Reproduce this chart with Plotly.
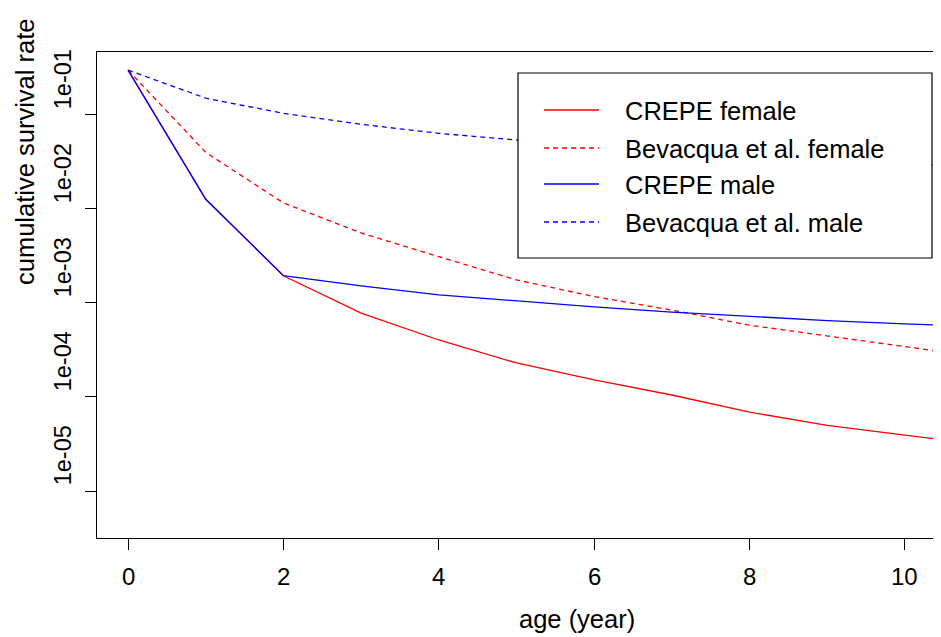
import numpy as np
import plotly.graph_objects as go

# ---- data ----
ages = [0, 1, 2, 3, 4, 5, 6, 7, 8, 9, 10, 11]
crepe_female = [0.30, 0.0127, 0.00195, 7.8e-4, 4.04e-4, 2.3e-4, 1.52e-4, 1.05e-4, 6.9e-5, 5.0e-5, 3.94e-5, 3.1e-5]
bevacqua_female = [0.30, 0.040, 0.0116, 5.56e-3, 3.11e-3, 1.76e-3, 1.17e-3, 8.4e-4, 5.8e-4, 4.45e-4, 3.43e-4, 2.64e-4]
crepe_male = [0.30, 0.0127, 0.00195, 1.52e-3, 1.22e-3, 1.05e-3, 9.1e-4, 8.0e-4, 7.15e-4, 6.5e-4, 6.0e-4, 5.56e-4]
bevacqua_male = [0.30, 0.151, 0.104, 0.0796, 0.0638, 0.0542, 0.047, 0.042, 0.037, 0.033, 0.0305, 0.028]

series_names = ["CREPE female", "Bevacqua et al. female", "CREPE male", "Bevacqua et al. male"]
series_values = [crepe_female, bevacqua_female, crepe_male, bevacqua_male]
series_colors = ["#FF0000", "#FF0000", "#0000FF", "#0000FF"]
series_dash = ["solid", "5px,4px", "solid", "5px,4px"]

x_ticks = [0, 2, 4, 6, 8, 10]
y_ticks = [1e-1, 1e-2, 1e-3, 1e-4, 1e-5]
y_tick_labels = ["1e-01", "1e-02", "1e-03", "1e-04", "1e-05"]

FONT = "Liberation Sans, Arial, sans-serif"

fig = go.Figure()
for name, vals, col, dash in zip(series_names, series_values, series_colors, series_dash):
    fig.add_trace(go.Scatter(x=ages, y=vals, mode="lines", name=name,
                             line=dict(color=col, width=1.3, dash=dash),
                             showlegend=False))

# page has an 8px body margin: work in page pixels and convert
OFF = 8
PAGE_W, PAGE_H = 941, 637
W, H = PAGE_W - OFF, PAGE_H - OFF
plot_left, plot_right, plot_top, plot_bottom = 97, 936, 52, 538
L = plot_left - OFF
T = plot_top - OFF
R = W - (plot_right - OFF)
B = H - (plot_bottom - OFF)
pw, ph = plot_right - plot_left, plot_bottom - plot_top

def px2paper_x(px):
    return (px - plot_left) / pw

def px2paper_y(py):
    return (plot_bottom - py) / ph

annotations = []
# x tick labels
for v in x_ticks:
    annotations.append(dict(x=v, xref="x", y=px2paper_y(576), yref="paper",
                            text=str(v), showarrow=False, xanchor="center", yanchor="middle",
                            font=dict(family=FONT, size=24, color="black")))
# y tick labels (rotated, offset above tick as in the reference)
for v, t in zip(y_ticks, y_tick_labels):
    annotations.append(dict(x=px2paper_x(63), xref="paper", y=np.log10(v) + 0.38, yref="y",
                            text=t, showarrow=False, textangle=-90,
                            xanchor="center", yanchor="middle",
                            font=dict(family=FONT, size=23.5, color="black")))
# axis titles
annotations.append(dict(x=px2paper_x(577), xref="paper", y=px2paper_y(619), yref="paper",
                        text="age (year)", showarrow=False, xanchor="center", yanchor="middle",
                        font=dict(family=FONT, size=25.5, color="black")))
annotations.append(dict(x=px2paper_x(25), xref="paper", y=px2paper_y(152), yref="paper",
                        text="cumulative survival rate", showarrow=False, textangle=-90,
                        xanchor="center", yanchor="middle",
                        font=dict(family=FONT, size=25.5, color="black")))

# manual legend
shapes = [dict(type="rect", xref="paper", yref="paper",
               x0=px2paper_x(518), x1=px2paper_x(932), y0=px2paper_y(258), y1=px2paper_y(73),
               fillcolor="white", line=dict(color="black", width=1.2), layer="above")]
row_y = [110, 148, 184, 222]
for name, col, dash, ry in zip(series_names, series_colors, series_dash, row_y):
    shapes.append(dict(type="line", xref="paper", yref="paper",
                       x0=px2paper_x(544), x1=px2paper_x(599), y0=px2paper_y(ry), y1=px2paper_y(ry),
                       line=dict(color=col, width=1.3, dash=dash), layer="above"))
    annotations.append(dict(x=px2paper_x(623), xref="paper", y=px2paper_y(ry + 1), yref="paper",
                            text=name, showarrow=False, xanchor="left", yanchor="middle",
                            font=dict(family=FONT, size=25.5, color="black")))

fig.update_layout(
    width=W, height=H,
    margin=dict(l=L, r=R, t=T, b=B),
    paper_bgcolor="white", plot_bgcolor="white",
    showlegend=False,
    annotations=annotations,
    shapes=shapes,
    font=dict(family=FONT, size=24, color="black"),
)
fig.update_xaxes(range=[-0.4, 10.4], tickvals=x_ticks, showticklabels=False,
                 ticks="outside", ticklen=11, tickcolor="black", tickwidth=1,
                 showgrid=False, zeroline=False, showline=True, mirror=True,
                 linecolor="black", linewidth=1.2)
fig.update_yaxes(type="log", range=[-5.5, -0.33], tickvals=y_ticks, showticklabels=False,
                 ticks="outside", ticklen=11, tickcolor="black", tickwidth=1,
                 showgrid=False, zeroline=False, showline=True, mirror=True,
                 linecolor="black", linewidth=1.2)

fig.write_html("out.html")
